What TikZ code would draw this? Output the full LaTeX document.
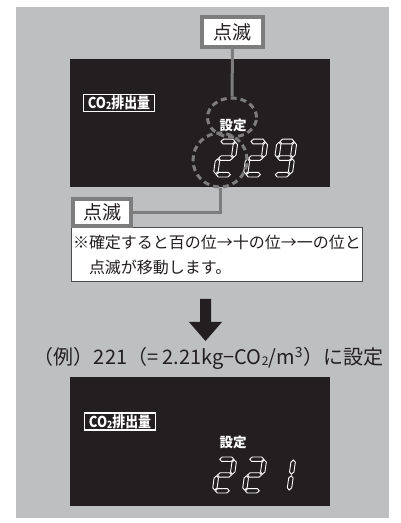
\documentclass[tikz,border=0pt]{standalone}
\usepackage{fontspec}
\setmainfont{Noto Sans CJK JP}
\usepackage{tikz}
\usetikzlibrary{shapes.geometric}
\definecolor{panelgray}{RGB}{190,191,193}
\definecolor{markgray}{RGB}{125,125,125}
\definecolor{lcdblack}{RGB}{35,31,32}
\newcommand\hseg[1]{\filldraw[lcdseg] (3,#1) -- ++(2.2,2.2) -- ++(9.6,0) -- ++(2.2,-2.2) -- ++(-2.2,-2.2) -- ++(-9.6,0) -- cycle;}
\newcommand\vseg[2]{\filldraw[lcdseg] (#1,#2) -- ++(2.2,2.2) -- ++(0,9.8) -- ++(-2.2,2.2) -- ++(-2.2,-2.2) -- ++(0,-9.8) -- cycle;}
\def\sega{\hseg{33.8}}
\def\segg{\hseg{18}}
\def\segd{\hseg{2.2}}
\def\segb{\vseg{17.8}{18.8}}
\def\segc{\vseg{17.8}{3}}
\def\sege{\vseg{2.2}{3}}
\def\segf{\vseg{2.2}{18.8}}
\tikzset{
  pics/lcddigit/.style={code={\foreach \s in {#1}{\csname seg\s\endcsname}}},
  lcdseg/.style={draw=white, fill=lcdblack, line width=0.9pt},
}

\begin{document}
\begin{tikzpicture}[x=1pt, y=1pt,
  blinkbox/.style={draw=markgray, line width=4pt, fill=white, inner sep=0pt,
    minimum width=#1, minimum height=30pt, text=lcdblack, font=\fontsize{19}{19}\selectfont},
  markline/.style={draw=markgray, line width=3pt},
  markoval/.style={ellipse, draw=markgray, line width=3pt, dash pattern=on 6pt off 4pt, inner sep=0pt},
  co2tag/.style={draw=white, line width=1.6pt, text=white, inner sep=0pt,
    minimum width=71pt, minimum height=17pt, font=\fontsize{15}{15}\selectfont\bfseries},
  setlabel/.style={text=white, inner sep=0pt, font=\fontsize{13.5}{13.5}\selectfont\bfseries},
  notebox/.style={draw=black!70, line width=1pt, fill=white, text=lcdblack, inner sep=1.5pt,
    text width=288pt, minimum height=54pt, align=left, font=\fontsize{16}{24.5}\selectfont},
]
\useasboundingbox (0,0) rectangle (400,523);
\fill[panelgray] (16,5) rectangle (389,516);
\fill[lcdblack] (70,336) rectangle (330,464);
\fill[lcdblack] (70,17) rectangle (330,146);

\node[co2tag] (tagtop) at (119,420) {\scalebox{0.86}[1]{CO\raisebox{-1pt}{\fontsize{10}{10}\selectfont 2}排出量}};
\node[setlabel] (settop) at (233,398) {設定};
\pic[xslant=0.14, yscale=1.05] at (213,346) {lcddigit={a,b,g,e,d}};
\pic[xslant=0.14, yscale=1.05] at (243,346) {lcddigit={a,b,g,e,d}};
\pic[xslant=0.14, yscale=1.05] at (272,346) {lcddigit={a,b,c,d,f,g}};

\node[co2tag] (tagbot) at (120,101.5) {\scalebox{0.86}[1]{CO\raisebox{-1pt}{\fontsize{10}{10}\selectfont 2}排出量}};
\node[setlabel] (setbot) at (233,81) {設定};
\pic[xslant=0.14] at (212,30) {lcddigit={a,b,g,e,d}};
\pic[xslant=0.14] at (242,30) {lcddigit={a,b,g,e,d}};
\pic[xslant=0.14] at (271,30) {lcddigit={b,c}};

\node[markoval, minimum width=49pt, minimum height=39pt] (ovalset) at (232,405.5) {};
\node[markoval, minimum width=54pt, minimum height=54pt] (ovaldigit) at (220,363) {};

\node[blinkbox=61pt] (blinktop) at (232.5,491) {点滅};
\node[notebox] (note) at (217,268) {※確定すると百の位→十の位→一の位と\\　点滅が移動します。};
\node[blinkbox=58pt, minimum height=27pt] (blinkbot) at (102,310.5) {点滅};

\draw[markline] (blinktop.south) -- (ovalset.north);
\draw[markline] (ovaldigit.south) |- (blinkbot.east);

\fill[lcdblack] (200,224) -- (211,224) -- (211,201) -- (222,201) -- (205.5,182) -- (189,201) -- (200,201) -- cycle;

\node[text=lcdblack, font=\fontsize{20}{20}\selectfont] (example) at (208.5,164.5)
  {（例）221（= 2.21kg−CO\raisebox{-1pt}{\fontsize{12}{12}\selectfont 2}/m\textsuperscript{3}）に設定};
\end{tikzpicture}
\end{document}
